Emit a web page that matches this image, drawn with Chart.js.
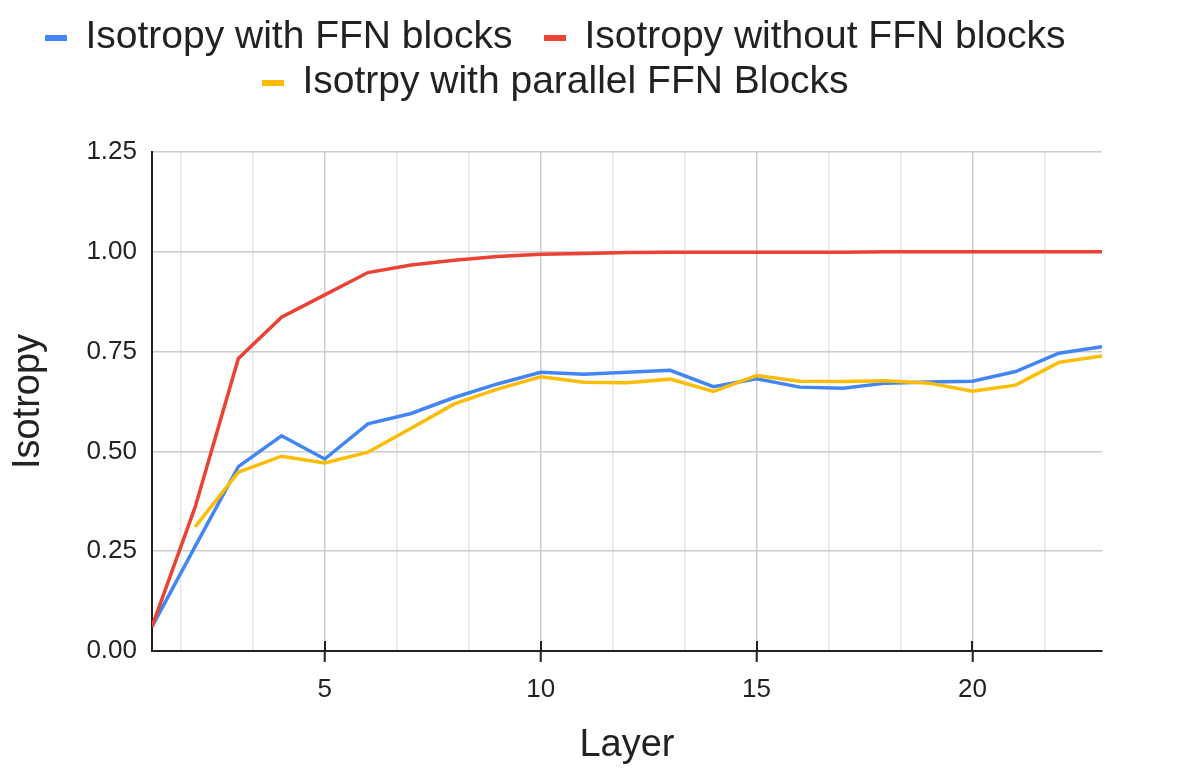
<!DOCTYPE html>
<html>
<head>
<meta charset="utf-8">
<title>Isotropy by layer</title>
<script src="https://cdn.jsdelivr.net/npm/chart.js@4.4.0/dist/chart.umd.min.js"></script>
<style>
  body { margin: 0; background: #fff; }
  #wrap { position: relative; width: 1183px; height: 778px; }
  #legend {
    position: absolute; top: 12px; left: 0; width: 1111px;
    font: 39px "Liberation Sans", Arial, sans-serif; color: #222;
    line-height: 45px; text-align: center;
  }
  .row { white-space: nowrap; }
  .item { display: inline-block; margin: 0 16px; }
  .swatch { display: inline-block; width: 22px; height: 6px; margin-right: 18px; vertical-align: middle; }
</style>
</head>
<body>
<div id="wrap">
  <canvas id="chart" width="1183" height="778"></canvas>
  <div id="legend"></div>
</div>
<script>
// data
const layers = [1, 2, 3, 4, 5, 6, 7, 8, 9, 10, 11, 12, 13, 14, 15, 16, 17, 18, 19, 20, 21, 22, 23];
const withFfn = [0.061, 0.262, 0.462, 0.539, 0.481, 0.569, 0.595, 0.635, 0.669, 0.698, 0.693, 0.698, 0.703,
                 0.662, 0.682, 0.661, 0.658, 0.671, 0.674, 0.676, 0.700, 0.746, 0.762];
const withoutFfn = [0.061, 0.361, 0.733, 0.836, 0.892, 0.948, 0.967, 0.979, 0.988, 0.994, 0.996, 0.998, 0.999,
                    0.999, 0.999, 0.999, 0.999, 1.000, 1.000, 1.000, 1.000, 1.000, 1.000];
const parallelFfn = [null, 0.311, 0.448, 0.488, 0.471, 0.498, 0.558, 0.619, 0.656, 0.687, 0.673, 0.672, 0.681,
                     0.650, 0.690, 0.676, 0.675, 0.677, 0.671, 0.651, 0.666, 0.723, 0.739];
const seriesNames = ["Isotropy with FFN blocks", "Isotropy without FFN blocks", "Isotrpy with parallel FFN Blocks"];
const seriesColors = ["#4285f4", "#ea4335", "#fbbc04"];
const xTicks = [5, 10, 15, 20];
const yTicks = [0, 0.25, 0.5, 0.75, 1.0, 1.25];
const minorStep = 5 / 3;

Chart.defaults.font.family = '"Liberation Sans", Arial, sans-serif';
Chart.defaults.color = "#222";

const toPoints = vals => layers.map((l, i) => ({ x: l, y: vals[i] }));
const allSeries = [withFfn, withoutFfn, parallelFfn];

// later series sit on top, like in the original
const datasets = allSeries.map((vals, i) => ({
  label: seriesNames[i],
  data: toPoints(vals),
  borderColor: seriesColors[i],
  backgroundColor: seriesColors[i],
  borderWidth: 3.5,
  pointRadius: 0,
  tension: 0,
  order: allSeries.length - i
}));

// legend as html, two rows like the original
const legend = document.getElementById("legend");
[[0, 1], [2]].forEach(row => {
  const div = document.createElement("div");
  div.className = "row";
  row.forEach(i => {
    const item = document.createElement("span");
    item.className = "item";
    const sw = document.createElement("span");
    sw.className = "swatch";
    sw.style.background = seriesColors[i];
    item.appendChild(sw);
    item.appendChild(document.createTextNode(seriesNames[i]));
    div.appendChild(item);
  });
  legend.appendChild(div);
});

const isMajor = v => Math.abs(v / 5 - Math.round(v / 5)) < 1e-6;

// the major x ticks cross the axis line, so draw the inner half too
const innerTicks = {
  id: "innerTicks",
  afterDraw(chart) {
    const { ctx, scales: { x }, chartArea } = chart;
    ctx.save();
    ctx.strokeStyle = "#222";
    ctx.lineWidth = 2;
    x.ticks.forEach(t => {
      const px = Math.round(x.getPixelForValue(t.value));
      ctx.beginPath();
      ctx.moveTo(px, chartArea.bottom - 10);
      ctx.lineTo(px, chartArea.bottom);
      ctx.stroke();
    });
    ctx.restore();
  }
};

new Chart(document.getElementById("chart"), {
  type: "line",
  data: { datasets },
  plugins: [innerTicks],
  options: {
    responsive: false,
    animation: false,
    layout: { padding: { top: 152, right: 81, left: 0, bottom: 0 } },
    plugins: { legend: { display: false }, tooltip: { enabled: false } },
    scales: {
      x: {
        type: "linear",
        position: "bottom",
        min: 1,
        max: 23,
        afterBuildTicks: s => { s.ticks = xTicks.map(v => ({ value: v })); },
        afterFit: s => { s.height = 127; },
        grid: { color: "#cccccc", lineWidth: 1.5, tickColor: "#222", tickLength: 11, tickWidth: 2 },
        border: { color: "#222", width: 2 },
        ticks: { font: { size: 26 }, color: "#222", padding: 12, maxRotation: 0 },
        title: { display: true, text: "Layer", font: { size: 38 }, color: "#222", padding: { top: 0, bottom: 10 } }
      },
      xMinor: {
        type: "linear",
        position: "bottom",
        min: 1,
        max: 23,
        afterBuildTicks: s => {
          const t = [];
          for (let k = 1; k * minorStep < 23; k++) t.push({ value: k * minorStep });
          s.ticks = t;
        },
        grid: {
          drawTicks: false,
          lineWidth: 1.5,
          color: ctx => (ctx.tick && isMajor(ctx.tick.value)) ? "rgba(0,0,0,0)" : "#e6e6e6"
        },
        border: { display: false },
        ticks: { display: false }
      },
      y: {
        min: 0,
        max: 1.25,
        afterBuildTicks: s => { s.ticks = yTicks.map(v => ({ value: v })); },
        afterFit: s => { s.width = 152; },
        grid: { color: "#cccccc", lineWidth: 1.5, drawTicks: false },
        border: { color: "#222", width: 2 },
        ticks: { font: { size: 26 }, color: "#222", padding: 15, callback: v => v.toFixed(2) },
        title: { display: true, text: "Isotropy", font: { size: 38 }, color: "#222", padding: { top: 6, bottom: 0 } }
      }
    }
  }
});
</script>
</body>
</html>
